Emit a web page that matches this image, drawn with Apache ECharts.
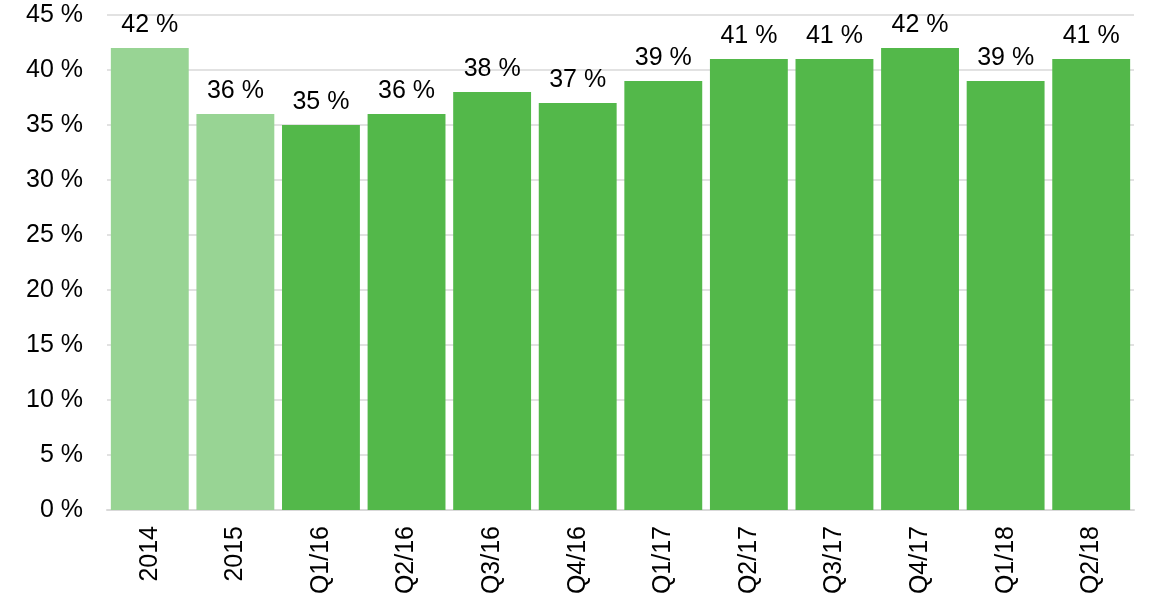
<!DOCTYPE html>
<html><head><meta charset="utf-8">
<script src="https://cdn.jsdelivr.net/npm/echarts@6/dist/echarts.min.js"></script>
<style>html,body{margin:0;padding:0;background:#fff}#c{width:1152px;height:603px}</style>
</head><body><div id="c"></div>
<script>
const categories = ['2014','2015','Q1/16','Q2/16','Q3/16','Q4/16','Q1/17','Q2/17','Q3/17','Q4/17','Q1/18','Q2/18'];
const values = [42,36,35,36,38,37,39,41,41,42,39,41];
const lightIdx = [0,1];
const chart = echarts.init(document.getElementById('c'));
chart.setOption({
  animation:false,
  grid:{left:107,right:18,top:15,bottom:93,containLabel:false},
  xAxis:{type:'category',data:categories,
    axisLine:{lineStyle:{color:'#d9d9d9',width:2}},
    axisTick:{show:false},
    axisLabel:{rotate:90,color:'#000',fontFamily:'Liberation Sans, Arial',fontSize:25,margin:16}},
  yAxis:{type:'value',min:0,max:45,interval:5,
    axisLine:{show:false},axisTick:{show:false},
    splitLine:{lineStyle:{color:'#d9d9d9',width:1.5}},
    axisLabel:{formatter:'{value} %',color:'#000',fontFamily:'Liberation Sans, Arial',fontSize:25,margin:24,padding:[6,0,0,0]}},
  series:[{type:'bar',barCategoryGap:'9%',
    data:values.map((v,i)=>({value:v,itemStyle:{color:lightIdx.includes(i)?'#98D494':'#53B84A'}})),
    label:{show:true,position:'top',distance:10,formatter:'{c} %',color:'#000',fontFamily:'Liberation Sans, Arial',fontSize:25}}]
});
</script></body></html>
